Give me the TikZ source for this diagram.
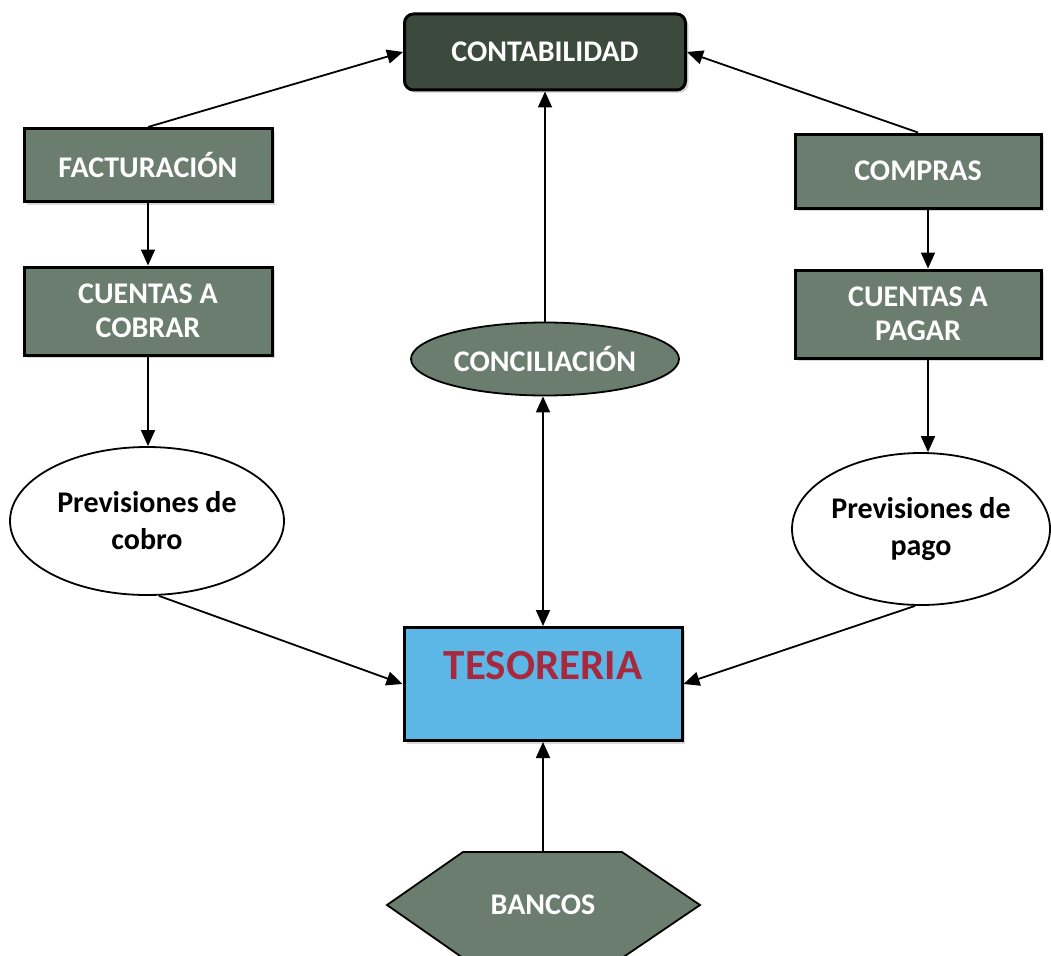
\documentclass[tikz,border=0pt]{standalone}
\usepackage{fontspec}
\setmainfont{Carlito}
\usetikzlibrary{arrows.meta,shadows,calc,shapes.geometric}
\definecolor{boxgreen}{HTML}{6B7D6F}
\definecolor{darkgreen}{HTML}{3B4A3D}
\definecolor{tesblue}{HTML}{5CB6E6}
\definecolor{tesred}{HTML}{A8293E}
\tikzset{
  box/.style={draw=black, line width=3pt, fill=boxgreen, text=white,
    font=\bfseries\fontsize{30}{34}\selectfont, align=center,
    drop shadow={shadow xshift=3pt, shadow yshift=-3pt, fill=black!25, opacity=0.6}},
  oval/.style={ellipse, draw=black, line width=1.8pt, fill=white, text=black,
    font=\bfseries\fontsize{30}{37}\selectfont, align=center, inner sep=0pt},
  arr/.style={line width=1.8pt, -{Triangle[length=16pt,width=14pt]}},
  dbl/.style={line width=1.8pt, {Triangle[length=16pt,width=14pt]}-{Triangle[length=16pt,width=14pt]}},
}
\begin{document}
\begin{tikzpicture}[x=1pt,y=-1pt]
\useasboundingbox (0,0) rectangle (1051,955);
\clip (0,0) rectangle (1051,955);

% accounting at the top
\node[box, fill=darkgreen, rounded corners=9pt, minimum width=281pt, minimum height=76pt]
  (cont) at (545,52) {CONTABILIDAD};

% receivables column
\node[box, minimum width=248pt, minimum height=73pt] (fact) at (148,165) {FACTURACIÓN};
\node[box, minimum width=248pt, minimum height=88pt] (cxc) at (148,311) {CUENTAS A\\COBRAR};
\node[oval, minimum width=274pt, minimum height=148pt] (pcob) at (147,521) {Previsiones de\\cobro};

% payables column
\node[box, minimum width=246pt, minimum height=74pt] (comp) at (918,171) {COMPRAS};
\node[box, minimum width=246pt, minimum height=88pt] (cxp) at (918,314) {CUENTAS A\\PAGAR};
\node[oval, minimum width=258pt, minimum height=152pt] (ppag) at (921,529) {Previsiones de\\pago};

% centre column
\node[oval, fill=boxgreen, text=white, minimum width=268pt, minimum height=73pt]
  (conc) at (545,359) {CONCILIACIÓN};
\node[draw=black, line width=3pt, fill=tesblue, minimum width=278pt, minimum height=113pt,
  drop shadow={shadow xshift=3pt, shadow yshift=-3pt, fill=black!25, opacity=0.6}]
  (tes) at (543,684) {};
\node[text=tesred, font=\bfseries\fontsize{43}{43}\selectfont] (testxt) at (543,666) {TESORERIA};

% banks hexagon
\draw[line width=1.8pt, fill=boxgreen] (387,905) -- (463,852) -- (622,852) -- (700,905)
  -- (622,958) -- (463,958) -- cycle;
\node[text=white, font=\bfseries\fontsize{30}{34}\selectfont, minimum width=313pt,
  minimum height=106pt] (banc) at (543,905) {BANCOS};

% connectors
\draw[arr] (fact.north) -- (cont.west);
\draw[arr] (comp.north) -- (cont.east);
\draw[arr] (conc.north) -- (conc.north |- cont.south);
\draw[arr] (fact) -- (cxc);
\draw[arr] (cxc) -- (pcob.north -| cxc.south);
\draw[arr] (comp.south -| 928,0) -- (cxp.north -| 928,0);
\draw[arr] (cxp.south -| 928,0) -- (ppag.north -| 928,0);
\draw[dbl] (tes.north) -- (tes.north |- conc.south);
\draw[arr] ($(pcob.south)+(12,0)$) -- (tes.west);
\draw[arr] ($(ppag.south)+(-6,0)$) -- (tes.east);
\draw[arr] (banc.north) -- (tes.south);
\end{tikzpicture}
\end{document}
